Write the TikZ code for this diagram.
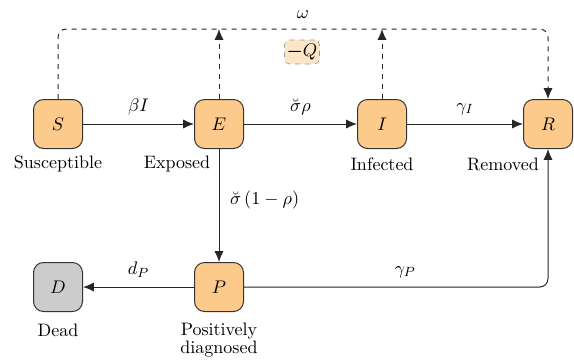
\documentclass[tikz,border=0pt]{standalone}
\usepackage{amsmath}
\usetikzlibrary{arrows.meta}
\definecolor{boxfill}{RGB}{252,202,138}
\definecolor{deadfill}{RGB}{204,204,204}
\definecolor{qfill}{RGB}{253,229,200}
\begin{document}
\begin{tikzpicture}[x=0.6pt,y=-0.6pt,
  font=\fontsize{10.8}{13}\selectfont,
  comp/.style={draw=black!80,fill=boxfill,rounded corners=6pt,minimum width=29.4pt,minimum height=29.4pt,inner sep=0pt,line width=0.6pt},
  deadbox/.style={comp,fill=deadfill},
  flow/.style={-{Latex[length=6.5pt,width=5.5pt]},line width=0.6pt,draw=black!85},
  dflow/.style={flow,dashed},
  lbl/.style={}]
\useasboundingbox (0,0) rectangle (574,360);
\node[comp] (S) at (58,124) {$S$};
\node[comp] (E) at (219,124) {$E$};
\node[comp] (I) at (382,124) {$I$};
\node[comp] (R) at (548,124) {$R$};
\node[deadbox] (D) at (58,287) {$D$};
\node[comp] (P) at (219,287) {$P$};
\node[lbl] (lS) at (58,164) {Susceptible};
\node[lbl] (lE) at (177,164) {Exposed};
\node[lbl] (lI) at (382,164) {Infected};
\node[lbl] (lR) at (503,164) {Removed};
\node[lbl] (lD) at (58,330) {Dead};
\node[lbl,align=center] (lP) at (219,340) {Positively\\[-2pt]diagnosed};
\coordinate (tS) at (58,29);
\coordinate (tE) at (219,29);
\coordinate (tI) at (382,29);
\coordinate (tR) at (548,29);
\coordinate (cPR) at (548,287);
\draw[flow] (S) -- node[above=2pt] {$\beta I$} (E);
\draw[flow] (E) -- node[above=2pt] {$\breve{\sigma}\rho$} (I);
\draw[flow] (I) -- node[above=2pt] {$\gamma_I$} (R);
\draw[flow] (E) -- node[right=3pt,pos=0.45] {$\breve{\sigma}\,(1-\rho)$} (P);
\draw[flow] (P) -- node[above=2pt] {$d_P$} (D);
\draw[flow,rounded corners=5pt] (P) -- node[above=2pt,pos=0.53] {$\gamma_P$} (cPR) -- (R);
\draw[dflow,rounded corners=5pt] (S.north) -- (tS) -- node[above=2.5pt,pos=0.5] {$\omega$} (tR) -- (R.north);
\draw[dflow] (E.north) -- (tE);
\draw[dflow] (I.north) -- (tI);
\node[draw=black!40,dashed,fill=qfill,rounded corners=3pt,minimum width=21pt,minimum height=14.4pt,inner sep=1pt] (Q) at (302,52) {$\boldsymbol{-}Q$};
\end{tikzpicture}
\end{document}
